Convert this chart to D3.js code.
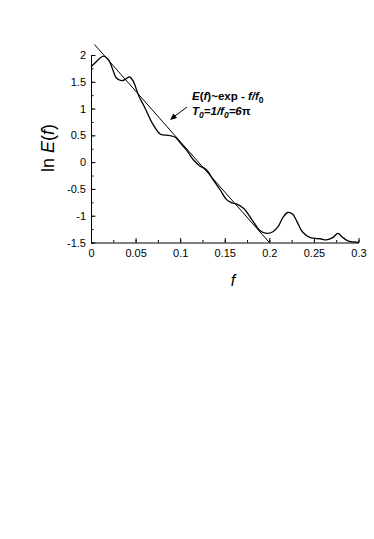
<!DOCTYPE html>
<html>
<head>
<meta charset="utf-8">
<script src="https://cdn.jsdelivr.net/npm/d3@7"></script>
<style>
  body { margin: 0; background: #fff; }
  text { font-family: "Liberation Sans", Arial, sans-serif; }
</style>
</head>
<body>
<div id="chart"></div>
<script>
// measured spectrum ln E(f)
const fVals = [0, 0.005, 0.010, 0.0144, 0.020, 0.025, 0.028, 0.034, 0.039, 0.043, 0.047, 0.054, 0.060, 0.069,
  0.078, 0.087, 0.095, 0.100, 0.107, 0.115, 0.122, 0.130, 0.137, 0.145, 0.152, 0.158, 0.163, 0.171, 0.182,
  0.189, 0.197, 0.204, 0.210, 0.215, 0.2205, 0.226, 0.231, 0.237, 0.246, 0.257, 0.264, 0.271, 0.277, 0.282, 0.288, 0.295, 0.300];
const lnE = [1.78, 1.86, 1.94, 1.98, 1.90, 1.70, 1.58, 1.52, 1.55, 1.59, 1.52, 1.22, 1.03, 0.72,
  0.52, 0.50, 0.46, 0.36, 0.23, 0.04, -0.07, -0.15, -0.33, -0.52, -0.70, -0.76, -0.78, -0.86, -1.11,
  -1.27, -1.33, -1.30, -1.20, -1.04, -0.94, -0.97, -1.11, -1.30, -1.41, -1.43, -1.45, -1.41, -1.33, -1.40, -1.47, -1.49, -1.50];

// fit ln E = a - f/f0, f0 = 1/(6 pi)
const fitF = [0.004, 0.2];
const fitA = 2.27;
const f0 = 1 / (6 * Math.PI);

const xTicks = [0, 0.05, 0.1, 0.15, 0.2, 0.25, 0.3];
const yTicks = [2, 1.5, 1, 0.5, 0, -0.5, -1, -1.5];

const width = 374, height = 539;
const svg = d3.select("#chart").append("svg").attr("width", width).attr("height", height);

const x = d3.scaleLinear().domain([0, 0.3]).range([91, 358.5]);
const y = d3.scaleLinear().domain([-1.5, 2]).range([242.5, 55]);

// minor ticks
svg.append("g").attr("transform", `translate(0,${y(-1.5)})`)
  .call(d3.axisBottom(x).tickValues(d3.range(0, 0.3001, 0.025)).tickFormat("").tickSize(-2.5).tickSizeOuter(0))
  .call(g => g.select(".domain").remove());
svg.append("g").attr("transform", `translate(${x(0)},0)`)
  .call(d3.axisLeft(y).tickValues(d3.range(-1.5, 2.001, 0.25)).tickFormat("").tickSize(-2.5).tickSizeOuter(0))
  .call(g => g.select(".domain").remove());

// major axes
svg.append("g").attr("transform", `translate(0,${y(-1.5)})`)
  .call(d3.axisBottom(x).tickValues(xTicks).tickFormat(d => String(d)).tickSize(-4.5).tickSizeOuter(0).tickPadding(7));
svg.append("g").attr("transform", `translate(${x(0)},0)`)
  .call(d3.axisLeft(y).tickValues(yTicks).tickFormat(d => String(d)).tickSize(-4.5).tickSizeOuter(0).tickPadding(5));

svg.selectAll(".tick text").attr("font-size", 11).attr("font-family", "Liberation Sans, Arial, sans-serif").attr("fill", "#000");
svg.selectAll(".tick line, .domain").attr("stroke", "#000").attr("stroke-width", 1);

// fit line
svg.append("path")
  .datum(fitF)
  .attr("fill", "none").attr("stroke", "#000").attr("stroke-width", 1)
  .attr("d", d3.line().x(d => x(d)).y(d => y(fitA - d / f0)));

// data curve
svg.append("path")
  .datum(fVals.map((f, i) => [f, lnE[i]]))
  .attr("fill", "none").attr("stroke", "#000").attr("stroke-width", 1.3)
  .attr("d", d3.line().x(d => x(d[0])).y(d => y(d[1])).curve(d3.curveCatmullRom.alpha(0.5)));

// annotation
const ann = svg.append("text").attr("x", 192).attr("y", 100).attr("font-size", 11.5).attr("font-weight", "bold");
ann.append("tspan").attr("font-style", "italic").text("E");
ann.append("tspan").text("(");
ann.append("tspan").attr("font-style", "italic").text("f");
ann.append("tspan").text(")~exp - ");
ann.append("tspan").attr("font-style", "italic").text("f/f");
ann.append("tspan").attr("font-size", 8.5).attr("dy", 3).text("0");

const ann2 = svg.append("text").attr("x", 192).attr("y", 115).attr("font-size", 11.5).attr("font-weight", "bold").attr("font-style", "italic");
ann2.append("tspan").text("T");
ann2.append("tspan").attr("font-size", 8.5).attr("dy", 3).text("0");
ann2.append("tspan").attr("dy", -3).text("=1/f");
ann2.append("tspan").attr("font-size", 8.5).attr("dy", 3).text("0");
ann2.append("tspan").attr("dy", -3).text("=6");
ann2.append("tspan").attr("font-style", "normal").text("π");

// arrow
svg.append("line").attr("x1", 187).attr("y1", 107).attr("x2", 171).attr("y2", 119)
  .attr("stroke", "#000").attr("stroke-width", 1);
svg.append("path").attr("d", "M170,120 L173.5,113.5 L177,118 Z").attr("fill", "#000");

// axis titles
const yl = svg.append("text").attr("transform", "translate(54,148) rotate(-90)")
  .attr("text-anchor", "middle").attr("font-size", 18);
yl.append("tspan").text("ln ");
yl.append("tspan").attr("font-style", "italic").text("E");
yl.append("tspan").text("(");
yl.append("tspan").attr("font-style", "italic").text("f");
yl.append("tspan").text(")");

svg.append("text").attr("x", 233).attr("y", 286).attr("text-anchor", "middle")
  .attr("font-size", 16).attr("font-style", "italic").text("f");
</script>
</body>
</html>
